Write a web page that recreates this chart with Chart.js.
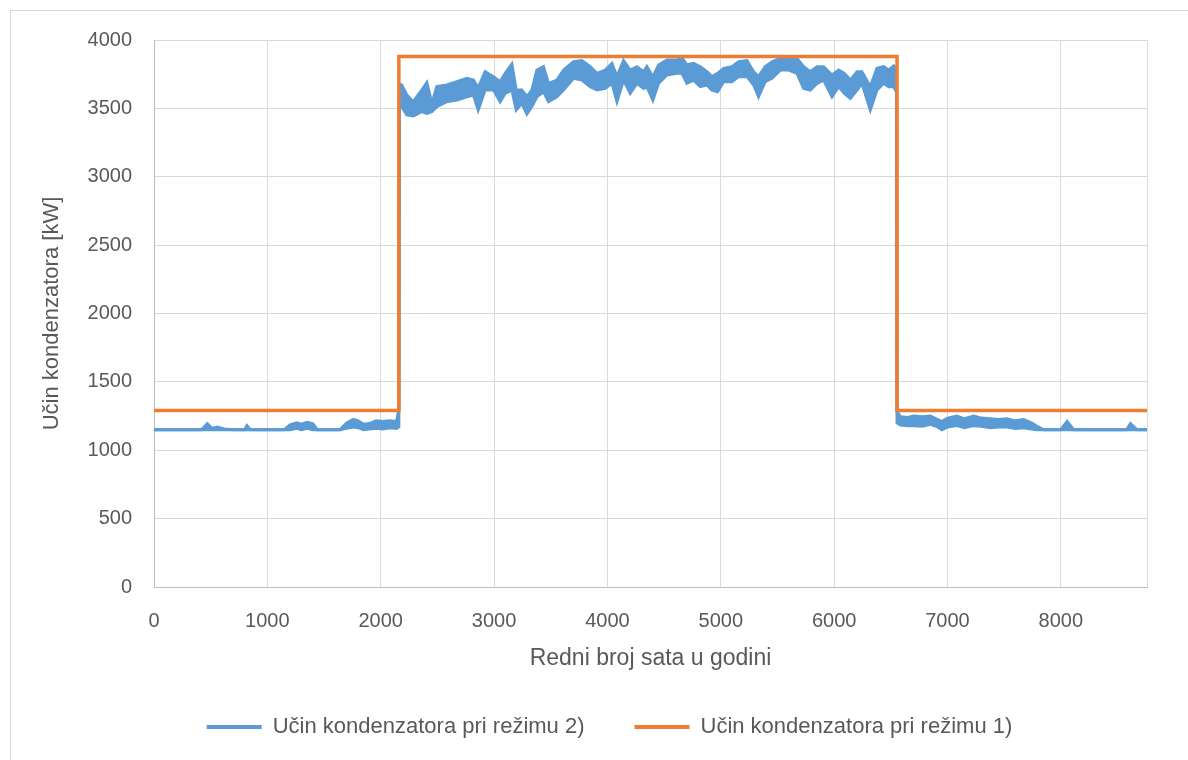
<!DOCTYPE html>
<html>
<head>
<meta charset="utf-8">
<script src="https://cdn.jsdelivr.net/npm/chart.js@4/dist/chart.umd.min.js"></script>
<style>
  html, body { margin: 0; padding: 0; background: #fff; overflow: hidden; }
  #frame { position: absolute; left: 10px; top: 10px; width: 1200px; height: 800px; border: 1px solid #d9d9d9; }
  #chart { position: absolute; left: 0; top: 0; }
</style>
</head>
<body>
<div id="frame"></div>
<canvas id="chart" width="1188" height="760"></canvas>
<script>
// Podaci očitani sa grafika (sat u godini -> kW)

// Režim 2) - gornja i donja ivica "šuma" krive
var blueHours = [
  0, 420, 470, 510, 560, 620, 700, 800, 820, 850, 1150, 1200, 1260, 1300, 1350, 1400, 1440, 1640,
  1700, 1760, 1800, 1850, 1900, 1960, 2020, 2080, 2140, 2160,
  2165, 2186, 2230, 2287, 2362, 2407, 2451, 2495, 2583, 2672, 2760, 2818, 2860, 2921, 2995, 3054,
  3098, 3157, 3195, 3245, 3289, 3333, 3378, 3436, 3480, 3554, 3613, 3701, 3775, 3848, 3907, 3981,
  4040, 4084, 4142, 4201, 4260, 4319, 4348, 4401, 4451, 4525, 4613, 4657, 4701, 4760, 4819, 4878,
  4922, 4972, 5025, 5099, 5157, 5231, 5290, 5333, 5392, 5452, 5525, 5598, 5672, 5731, 5790, 5849,
  5907, 5981, 6040, 6090, 6143, 6202, 6245, 6319, 6378, 6437, 6481, 6525, 6550,
  6555, 6584, 6650, 6702, 6780, 6849, 6900, 6952, 7000, 7084, 7150, 7231, 7300, 7378, 7450, 7525,
  7600, 7672, 7740, 7790, 7850, 8000, 8055, 8113, 8580, 8614, 8673, 8760
];
var blueHigh = [
  1150, 1150, 1195, 1160, 1170, 1155, 1150, 1150, 1180, 1150, 1150, 1185, 1200, 1190, 1205, 1195, 1150, 1150,
  1200, 1225, 1215, 1190, 1195, 1215, 1210, 1215, 1210, 1300,
  3680, 3671, 3598, 3549, 3634, 3688, 3537, 3659, 3671, 3695, 3720, 3707, 3650, 3768, 3732, 3695,
  3756, 3824, 3634, 3634, 3585, 3634, 3780, 3805, 3683, 3707, 3780, 3841, 3849, 3805, 3756, 3780,
  3829, 3732, 3849, 3780, 3805, 3768, 3805, 3732, 3817, 3854, 3854, 3873, 3817, 3829, 3805, 3768,
  3732, 3756, 3793, 3805, 3841, 3849, 3768, 3732, 3805, 3841, 3866, 3878, 3866, 3805, 3768, 3805,
  3805, 3744, 3780, 3756, 3707, 3768, 3768, 3659, 3793, 3805, 3780, 3810, 3780,
  1285, 1245, 1240, 1250, 1245, 1250, 1230, 1210, 1235, 1250, 1230, 1250, 1235, 1230, 1225, 1230,
  1215, 1225, 1200, 1175, 1150, 1150, 1210, 1150, 1150, 1195, 1150, 1150
];
var blueLow = [
  1150, 1150, 1150, 1150, 1150, 1150, 1150, 1150, 1150, 1150, 1150, 1150, 1160, 1150, 1160, 1150, 1150, 1150,
  1160, 1170, 1165, 1150, 1155, 1160, 1155, 1165, 1160, 1170,
  3560, 3512, 3452, 3445, 3476, 3464, 3476, 3512, 3549, 3561, 3585, 3598, 3488, 3634, 3634, 3549,
  3610, 3634, 3488, 3537, 3459, 3512, 3585, 3622, 3549, 3585, 3634, 3720, 3707, 3659, 3634, 3646,
  3683, 3549, 3707, 3610, 3683, 3646, 3659, 3561, 3683, 3744, 3756, 3756, 3683, 3707, 3659, 3671,
  3634, 3622, 3695, 3695, 3732, 3732, 3671, 3585, 3695, 3720, 3780, 3780, 3756, 3646, 3634, 3683,
  3707, 3585, 3659, 3610, 3573, 3634, 3683, 3488, 3634, 3683, 3659, 3659, 3620,
  1200, 1185, 1180, 1180, 1175, 1190, 1175, 1150, 1170, 1180, 1165, 1180, 1175, 1165, 1170, 1170,
  1160, 1165, 1155, 1150, 1150, 1150, 1150, 1150, 1150, 1150, 1150, 1150
];

// Režim 1) - stepenasta kriva
var orangeHours = [0, 2160, 2160, 6555, 6555, 8760];
var orangeValues = [1290, 1290, 3880, 3880, 1290, 1290];

var xTicks = [0, 1000, 2000, 3000, 4000, 5000, 6000, 7000, 8000];
var yTicks = [0, 500, 1000, 1500, 2000, 2500, 3000, 3500, 4000];

var BLUE = '#5b9bd5';
var ORANGE = '#ed7d31';
var TEXT = '#595959';
var GRID = '#d9d9d9';
var FONT = "'Liberation Sans', Arial, sans-serif";

function toPoints(xs, ys) {
  return xs.map(function(x, i) { return { x: x, y: ys[i] }; });
}

// pomjeranje legende (Chart.js je uvijek centrira unutar svog okvira)
var legendShift = {
  id: 'legendShift',
  afterLayout: function(chart) {
    var lg = chart.legend;
    if (!lg) return;
    lg.left += 36; lg.right += 36;
    lg.top -= 6; lg.bottom -= 6;
  }
};

Chart.defaults.font.family = FONT;
Chart.defaults.color = TEXT;

var ctx = document.getElementById('chart').getContext('2d');
var chart = new Chart(ctx, {
  type: 'line',
  plugins: [legendShift],
  data: {
    datasets: [
      {
        label: 'Učin kondenzatora pri režimu 2)',
        data: toPoints(blueHours, blueHigh),
        borderColor: BLUE,
        backgroundColor: BLUE,
        borderWidth: 3,
        pointRadius: 0,
        tension: 0,
        fill: false,
        order: 1
      },
      {
        label: 'donja',
        data: toPoints(blueHours, blueLow),
        borderColor: BLUE,
        backgroundColor: BLUE,
        borderWidth: 3,
        pointRadius: 0,
        tension: 0,
        fill: '-1',
        order: 1
      },
      {
        label: 'Učin kondenzatora pri režimu 1)',
        data: toPoints(orangeHours, orangeValues),
        borderColor: ORANGE,
        backgroundColor: ORANGE,
        borderWidth: 3.5,
        pointRadius: 0,
        tension: 0,
        fill: false,
        order: 0
      }
    ]
  },
  options: {
    responsive: false,
    animation: false,
    events: [],
    layout: { padding: { top: 40, right: 41, left: 0, bottom: 6 } },
    plugins: {
      tooltip: { enabled: false },
      legend: {
        position: 'bottom',
        labels: {
          font: { size: 22 },
          color: TEXT,
          boxWidth: 55,
          boxHeight: 4,
          padding: 50,
          sort: function(a, b) { return a.datasetIndex - b.datasetIndex; },
          filter: function(item) { return item.datasetIndex !== 1; },
          generateLabels: function(chart) {
            return chart.data.datasets.map(function(ds, i) {
              return {
                text: ds.label,
                fillStyle: ds.borderColor,
                strokeStyle: ds.borderColor,
                lineWidth: 0,
                fontColor: TEXT,
                datasetIndex: i
              };
            });
          }
        }
      }
    },
    scales: {
      x: {
        type: 'linear',
        min: 0,
        max: 8760,
        afterBuildTicks: function(scale) {
          scale.ticks = xTicks.concat([8760]).map(function(v) { return { value: v }; });
        },
        afterFit: function(scale) { scale.height = 85; },
        border: { color: '#bfbfbf', width: 1 },
        grid: { color: GRID, lineWidth: 1, drawTicks: false },
        ticks: {
          padding: 22,
          font: { size: 20 },
          color: TEXT,
          autoSkip: false,
          maxRotation: 0,
          callback: function(v) { return xTicks.indexOf(v) >= 0 ? String(v) : ''; }
        },
        title: {
          display: true,
          text: 'Redni broj sata u godini',
          font: { size: 23 },
          color: TEXT,
          padding: { top: 0, bottom: 0 }
        }
      },
      y: {
        min: 0,
        max: 4000,
        afterBuildTicks: function(scale) {
          scale.ticks = yTicks.map(function(v) { return { value: v }; });
        },
        afterFit: function(scale) { scale.width = 154; },
        border: { color: '#bfbfbf', width: 1 },
        grid: { color: GRID, lineWidth: 1, drawTicks: false },
        ticks: {
          padding: 22,
          font: { size: 20 },
          color: TEXT,
          callback: function(v) { return String(v); }
        },
        title: {
          display: true,
          text: 'Učin kondenzatora [kW]',
          font: { size: 22 },
          color: TEXT,
          padding: { top: 39, bottom: 0 }
        }
      }
    }
  }
});
</script>
</body>
</html>
